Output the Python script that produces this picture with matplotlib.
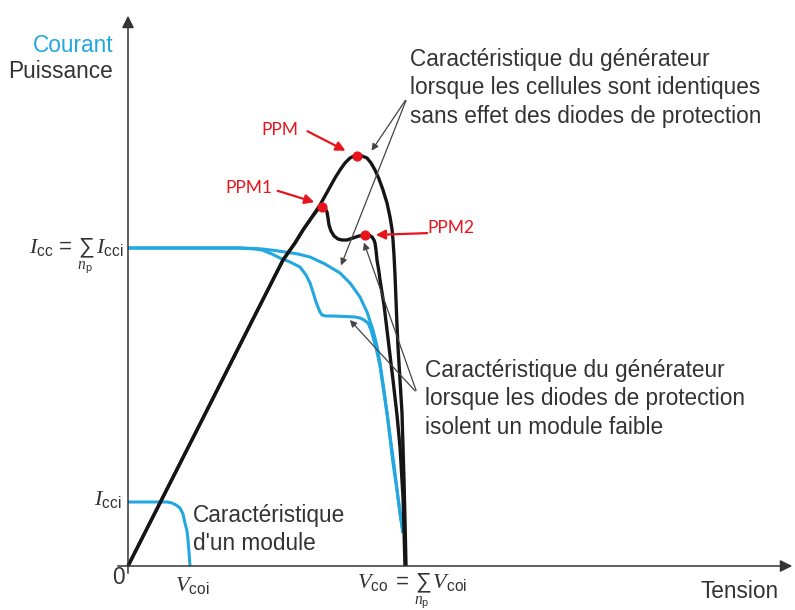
import matplotlib.pyplot as plt

# Courbe d'un module seul (courant)
module_v = [0, 32, 39, 44, 48, 52, 55, 57, 59, 60, 61, 62]
module_i = [64, 64, 64, 63, 61, 58, 52, 43, 35, 26, 14, 0]

# Courant du generateur, cellules identiques
gen_v = [0, 112, 127, 134, 147, 157, 170, 182, 197, 212, 222, 232, 239, 245, 249, 252,
         256, 259, 262, 265, 269, 272, 275]
gen_i = [318, 318, 317.5, 317, 315.5, 314, 312, 309, 302, 293, 283, 269, 254, 236, 220, 203,
         176, 153, 128, 103, 76, 53, 33]

# Courant du generateur, un module faible isole par les diodes
weak_v = [0, 112, 127, 134, 144, 152, 162, 172, 178, 182, 185, 188, 190, 192, 194, 198, 205,
          217, 227, 232, 236, 240, 243, 245, 247, 249, 252, 254, 257, 260, 263, 266, 269, 272, 275]
weak_i = [318, 318, 317, 316, 312, 308, 304, 299, 291, 283, 274, 264, 259, 254, 251, 250, 250,
          249.5, 249, 248, 246, 243, 236, 229, 222, 214, 200, 186, 166, 146, 123, 101, 76, 53, 33]

# Puissance, cellules identiques
pow_v = [0, 72, 122, 155, 167, 175, 184, 192, 197, 202, 207, 212, 217, 222, 226, 229, 234,
         239, 243, 247, 251, 255, 259, 262, 264, 265, 266, 267, 268, 269, 270, 272, 274, 275,
         276, 277, 278]
pow_p = [0, 142, 241, 306, 323, 336, 349, 361, 370, 379, 388, 396, 403, 408, 410, 410, 410,
         408, 403, 396, 387, 376, 363, 349, 337, 326, 311, 291, 266, 241, 219, 186, 153, 119,
         86, 46, 0]

# Puissance, module faible
powweak_v = [0, 72, 122, 155, 167, 175, 184, 191, 194, 197, 199, 200, 201, 203, 206, 210, 214,
             219, 225, 231, 237, 241, 244, 246, 247, 248, 249, 251, 252, 256, 259, 262, 265,
             269, 272, 275, 276, 277]
powweak_p = [0, 142, 241, 306, 323, 336, 349, 358, 359, 358, 354, 348, 341, 335, 330, 327, 326,
             326, 328, 330, 331, 331, 329, 326, 323, 316, 306, 294, 286, 261, 236, 211, 186,
             151, 119, 69, 36, 0]

# Points de puissance maximale
ppm_names = ["PPM", "PPM1", "PPM2"]
ppm_v = [229, 194, 237]
ppm_p = [410, 359, 331]

BLUE = '#22a7e0'
DARK = '#333333'
RED = '#e8141c'

plt.rcParams['font.family'] = ['Liberation Sans', 'DejaVu Sans']
plt.rcParams['mathtext.fontset'] = 'custom'
plt.rcParams['mathtext.it'] = 'Liberation Serif:italic'
plt.rcParams['mathtext.rm'] = 'Liberation Sans'
plt.rcParams['mathtext.cal'] = 'Liberation Sans'

fig = plt.figure(figsize=(7.95, 6.1), dpi=100)
ax = fig.add_axes([0, 0, 1, 1])
ax.set_xlim(-128, 667)
ax.set_ylim(-44, 566)
ax.axis('off')

# Axes avec fleches
ax.annotate('', xy=(667, 0), xytext=(-13, 0),
            arrowprops=dict(arrowstyle='-|>', color=DARK, lw=1.1, mutation_scale=18))
ax.annotate('', xy=(0, 553), xytext=(0, -10),
            arrowprops=dict(arrowstyle='-|>', color=DARK, lw=1.1, mutation_scale=18))

# Courbes
for v, i in [(module_v, module_i), (gen_v, gen_i), (weak_v, weak_i)]:
    ax.plot(v, i, color=BLUE, lw=2.2, solid_joinstyle='round', solid_capstyle='butt')
for v, p in [(pow_v, pow_p), (powweak_v, powweak_p)]:
    ax.plot(v, p, color='#151515', lw=2.4, solid_joinstyle='round', solid_capstyle='butt')
ax.scatter(ppm_v, ppm_p, s=40, color=RED, zorder=5)

# Etiquettes PPM avec fleches rouges
label_pos = [(152, 436), (121, 378), (323, 338)]
arrow_from = [(177, 436), (147, 376), (302, 333)]
arrow_to = [(220, 414), (189, 363), (245, 331)]
for name, lp, af, at in zip(ppm_names, label_pos, arrow_from, arrow_to):
    ax.text(lp[0], lp[1], name, color=RED, fontsize=12.5, family=['Lato', 'DejaVu Sans'],
            ha='center', va='center')
    ax.annotate('', xy=at, xytext=af,
                arrowprops=dict(arrowstyle='-|>', color=RED, lw=1.6, mutation_scale=14))

# Fleches grises vers les courbes
grey = dict(arrowstyle='-|>', color='#444444', lw=0.9, mutation_scale=10)
ax.annotate('', xy=(242, 413), xytext=(279, 468), arrowprops=grey)
ax.annotate('', xy=(212, 298), xytext=(279, 468), arrowprops=grey)
ax.annotate('', xy=(235, 326), xytext=(289, 173), arrowprops=grey)
ax.annotate('', xy=(220, 248), xytext=(289, 173), arrowprops=grey)

# Textes
fs = 16.3
ls = 1.3
ax.text(282, 518, "Caractéristique du générateur\nlorsque les cellules sont identiques\n"
        "sans effet des diodes de protection", color=DARK, fontsize=fs,
        ha='left', va='top', linespacing=ls)
ax.text(297, 207, "Caractéristique du générateur\nlorsque les diodes de protection\n"
        "isolent un module faible", color=DARK, fontsize=fs,
        ha='left', va='top', linespacing=ls)
ax.text(65, 62, "Caractéristique\nd'un module", color=DARK, fontsize=fs,
        ha='left', va='top', linespacing=ls)

ax.text(-15, 521, "Courant", color=BLUE, fontsize=fs, ha='right', va='center')
ax.text(-15, 494, "Puissance", color=DARK, fontsize=fs, ha='right', va='center')
ax.text(-10, -12, "0", color=DARK, fontsize=fs, ha='center', va='center')
ax.text(612, -25, "Tension", color=DARK, fontsize=fs, ha='center', va='center')

mfs = 16
ax.text(-5, 310, r"$I_{\rm cc}\,=\,\sum_{n_{\rm p}}\;I_{\rm cci}$", color=DARK, fontsize=mfs,
        ha='right', va='center')
ax.text(-6, 66, r"$I_{\rm cci}$", color=DARK, fontsize=mfs, ha='right', va='center')
ax.text(64, -20, r"$V_{\rm coi}$", color=DARK, fontsize=mfs, ha='center', va='center')
ax.text(284, -25, r"$V_{\rm co}\;=\,\sum_{n_{\rm p}}\;V_{\rm coi}$", color=DARK, fontsize=mfs,
        ha='center', va='center')

fig.savefig('out.png', dpi=100)
